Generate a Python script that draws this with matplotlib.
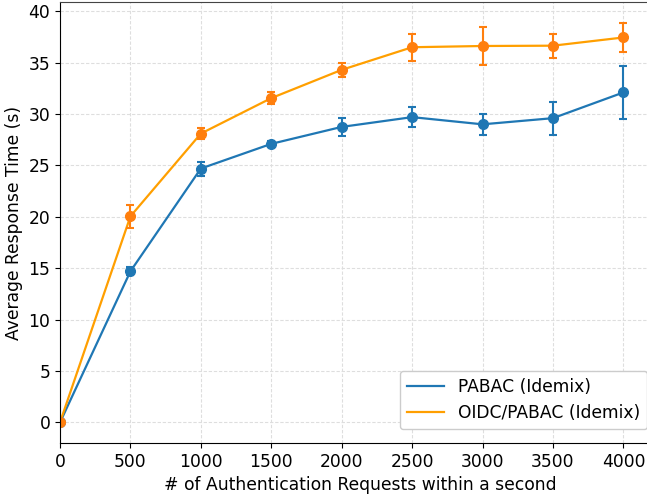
import numpy as np
import matplotlib
matplotlib.use('Agg')
import matplotlib.pyplot as plt

# requests per second
requests = [0, 500, 1000, 1500, 2000, 2500, 3000, 3500, 4000]

# PABAC (Idemix)
pabac_mean = [0, 14.7, 24.7, 27.1, 28.75, 29.7, 29.0, 29.6, 32.1]
pabac_err = [0, 0.4, 0.68, 0.3, 0.85, 1.0, 1.03, 1.6, 2.55]

# OIDC/PABAC (Idemix)
oidc_mean = [0, 20.05, 28.1, 31.55, 34.3, 36.5, 36.62, 36.65, 37.45]
oidc_err = [0, 1.15, 0.55, 0.6, 0.65, 1.3, 1.85, 1.15, 1.4]

labels = ['PABAC (Idemix)', 'OIDC/PABAC (Idemix)']

plt.rcParams['font.family'] = 'DejaVu Sans'
plt.rcParams['font.size'] = 12.3

fig = plt.figure(figsize=(6.47, 4.95), dpi=100)
ax = fig.add_axes([60 / 647, 52 / 495, 600 / 647, 441 / 495])

# lines (these go in the legend)
ax.plot(requests, pabac_mean, color='#1f77b4', lw=1.6, label=labels[0])
ax.plot(requests, oidc_mean, color='#ff9f00', lw=1.6, label=labels[1])

# markers with error bars
ax.errorbar(requests, pabac_mean, yerr=pabac_err, fmt='o', color='#1f77b4',
            ms=7, capsize=3, elinewidth=1.5, capthick=1.5)
ax.errorbar(requests, oidc_mean, yerr=oidc_err, fmt='o', color='#ff7f0e',
            ms=7, capsize=3, elinewidth=1.5, capthick=1.5)

ax.set_xlim(0, 4260)
ax.set_ylim(-2, 40.9)
ax.set_xticks(np.arange(0, 4001, 500))
ax.set_yticks(np.arange(0, 41, 5))
ax.grid(True, ls=(0, (3, 1.6)), color='#dedede', lw=0.8)
ax.set_axisbelow(True)

ax.spines['top'].set_color('#444444')
ax.spines['right'].set_color('#444444')

ax.set_xlabel('# of Authentication Requests within a second')
ax.set_ylabel('Average Response Time (s)')
ax.legend(loc='lower right', bbox_to_anchor=(0.987, 0.02), handlelength=2.2,
          borderaxespad=0.3, edgecolor='#cccccc', framealpha=1)

fig.savefig('out.png', dpi=100)
